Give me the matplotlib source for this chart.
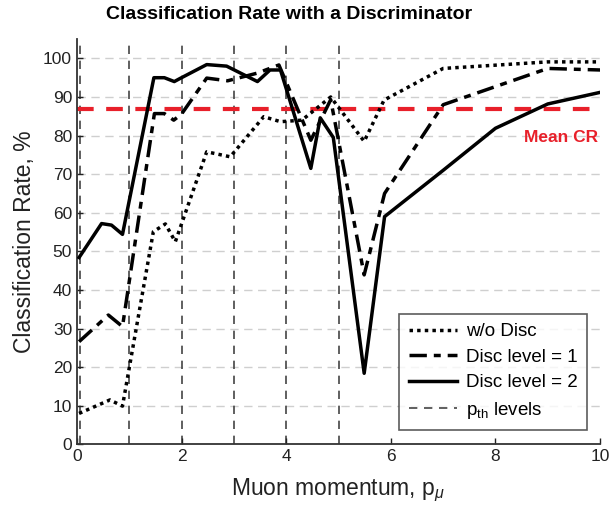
import matplotlib
matplotlib.use("Agg")
import matplotlib.pyplot as plt

plt.rcParams['font.family'] = ['Liberation Sans', 'DejaVu Sans']
plt.rcParams['mathtext.fontset'] = 'custom'
plt.rcParams['mathtext.rm'] = 'Liberation Sans'
plt.rcParams['mathtext.it'] = 'Liberation Sans:italic'

# Data
x_nodisc = [0.04, 0.63, 0.87, 1.46, 1.69, 1.88, 2.48, 2.93, 3.57, 3.89, 4.3, 4.85, 5.49, 5.87, 7.0, 9.0, 10.0]
y_nodisc = [8.0, 11.5, 9.9, 55.1, 57.1, 52.5, 75.8, 74.5, 84.9, 83.6, 84.0, 90.0, 78.5, 89.2, 97.4, 99.1, 99.1]

x_lvl1 = [0.04, 0.6, 0.87, 1.48, 1.67, 1.85, 2.0, 2.48, 2.88, 3.45, 3.86, 4.47, 4.85, 5.49, 5.88, 7.0, 9.0, 10.0]
y_lvl1 = [26.6, 33.5, 30.5, 85.7, 85.7, 84.0, 85.6, 94.9, 94.2, 96.2, 98.3, 78.8, 89.3, 43.9, 65.0, 88.0, 97.4, 97.0]

x_lvl2 = [0.04, 0.47, 0.66, 0.87, 1.47, 1.67, 1.86, 1.97, 2.48, 2.86, 3.45, 3.69, 3.89, 4.47, 4.65, 4.9, 5.49, 5.88, 7.0, 8.0, 9.0, 10.0]
y_lvl2 = [48.4, 57.2, 56.8, 54.4, 95.0, 95.0, 94.0, 94.8, 98.4, 98.0, 94.0, 97.0, 97.0, 71.5, 84.6, 79.5, 18.4, 59.0, 71.0, 81.9, 88.2, 91.2]

pth_levels = [0.05, 1, 2, 3, 4, 5]
mean_cr = 86.8

fig = plt.figure(figsize=(6.09, 5.08), dpi=100)
ax = fig.add_axes([0.1264, 0.1254, 0.859, 0.7976])

for yv in range(10, 101, 10):
    ax.axhline(yv, color='#cfcfcf', lw=1.0, ls=(0, (6, 4)), zorder=0)

for i, xv in enumerate(pth_levels):
    ax.axvline(xv, color='#444444', lw=1.2, ls=(0, (5, 4)), zorder=1,
               label='p$_{\\rm th}$ levels' if i == 0 else None)

ax.axhline(mean_cr, color='#e8202a', lw=3.0, ls=(0, (4, 3)), zorder=2)
ax.text(9.97, 79.5, 'Mean CR', color='#e8202a', fontsize=12.5, fontweight='bold',
        ha='right', va='center')

ax.plot(x_nodisc, y_nodisc, color='black', lw=2.5, ls=(0, (1, 1.2)), label='w/o Disc', zorder=3)
ax.plot(x_lvl1, y_lvl1, color='black', lw=2.5, ls=(0, (5, 2, 2, 2)), label='Disc level = 1', zorder=3)
ax.plot(x_lvl2, y_lvl2, color='black', lw=2.5, ls='-', label='Disc level = 2', zorder=3)

ax.set_xlim(0, 10)
ax.set_ylim(0, 105)
ax.set_xticks([0, 2, 4, 6, 8, 10])
ax.set_yticks(range(0, 101, 10))
ax.tick_params(direction='in', labelsize=12.5, length=4, width=1, colors='#222222')
for s in ['top', 'right']:
    ax.spines[s].set_visible(False)
for s in ['left', 'bottom']:
    ax.spines[s].set_linewidth(1.3)
    ax.spines[s].set_color('#333333')

ax.set_xlabel('Muon momentum, p$_{\\mu}$', fontsize=16.5, color='#222222', labelpad=9)
ax.set_ylabel('Classification Rate, %', fontsize=16.5, color='#222222', labelpad=5)
fig.text(0.475, 0.972, 'Classification Rate with a Discriminator', fontsize=14,
         fontweight='bold', ha='center', va='center')

handles, labels = ax.get_legend_handles_labels()
order = ['w/o Disc', 'Disc level = 1', 'Disc level = 2', 'p$_{\\rm th}$ levels']
hmap = dict(zip(labels, handles))
leg = ax.legend([hmap[k] for k in order], order, loc='lower right', bbox_to_anchor=(0.975, 0.035),
                fontsize=13.5, frameon=True, fancybox=False, edgecolor='#333333',
                handlelength=2.55, borderpad=0.5, labelspacing=0.45, handletextpad=0.5,
                borderaxespad=0.0)
leg.get_frame().set_linewidth(1.2)

fig.savefig('out.png', dpi=100)
